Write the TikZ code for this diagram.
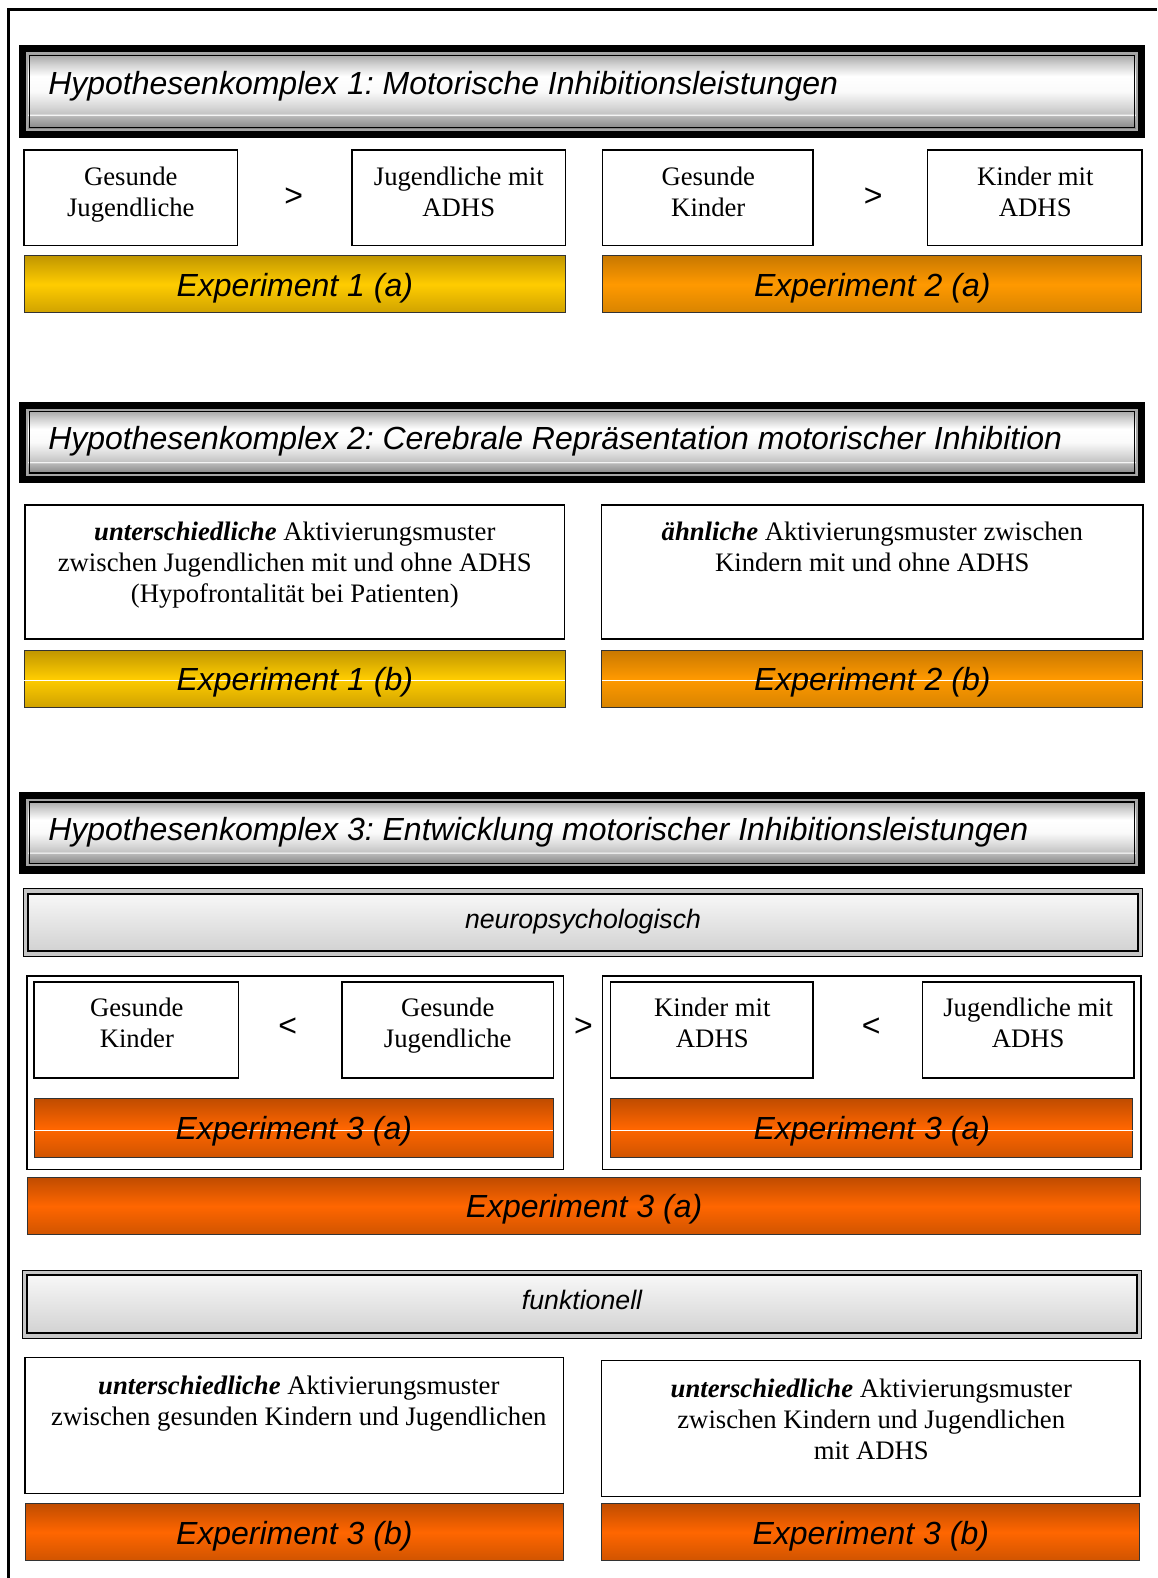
\documentclass[tikz,border=0pt]{standalone}
\usepackage{fontspec}
\setmainfont{Liberation Serif}
\newfontfamily\sansf{Liberation Sans}
\frenchspacing
\usetikzlibrary{fit}
\definecolor{goldT}{HTML}{C09600}
\definecolor{goldM}{HTML}{FFCC00}
\definecolor{goldB}{HTML}{CFA200}
\definecolor{orT}{HTML}{C87800}
\definecolor{orM}{HTML}{FF9900}
\definecolor{orB}{HTML}{D88400}
\definecolor{rdT}{HTML}{C04C00}
\definecolor{rdM}{HTML}{FF6600}
\definecolor{rdB}{HTML}{D05400}
\definecolor{mA}{HTML}{808080}
\definecolor{mB}{HTML}{B8B8B8}
\definecolor{mC}{HTML}{C4C4C4}
\definecolor{mD}{HTML}{D6D6D6}
\definecolor{mE}{HTML}{FAFAFA}
\definecolor{mF}{HTML}{D0D0D0}
\definecolor{mG}{HTML}{A0A0A0}
\pgfdeclareverticalshading{metal}{100bp}{color(0bp)=(mA); color(25bp)=(mA); color(34bp)=(mB); color(34.8bp)=(white); color(35.6bp)=(mC); color(40bp)=(mD); color(50bp)=(mE); color(60bp)=(white); color(68bp)=(mF); color(75bp)=(mG); color(100bp)=(mG)}
\tikzset{
  every node/.style={inner sep=0pt, outer sep=0pt},
  rowbox/.style={draw=black, line width=1.5pt, fill=white},
  ser/.style={font=\fontsize{26.7}{31}\selectfont, align=center},
  hdrtxt/.style={font=\sansf\itshape\fontsize{32}{38}\selectfont, anchor=west},
  exptxt/.style={font=\sansf\itshape\fontsize{32}{38}\selectfont, yshift=-3.5pt},
  cmp/.style={font=\sansf\fontsize{32}{38}\selectfont},
  subtxt/.style={font=\sansf\itshape\fontsize{26.7}{31}\selectfont},
  goldbar/.style={draw=black!80, line width=1pt, top color=goldT, bottom color=goldB, middle color=goldM},
  orbar/.style={draw=black!80, line width=1pt, top color=orT, bottom color=orB, middle color=orM},
  rdbar/.style={draw=black!80, line width=1pt, top color=rdT, bottom color=rdB, middle color=rdM},
  hdrframe/.style={fill=black},
  hdrinner/.style={shading=metal, draw=gray!70, line width=2pt},
  subouter/.style={draw=black, line width=1pt, fill=gray!45},
  subinner/.style={draw=black, line width=2pt, top color=white!97!black, bottom color=gray!35},
  shine/.style={white, line width=1pt},
}
\newcommand{\Hdr}[5]{% name ytop ybot text textshift
  \node[hdrframe, fit={(19,#2) (1138,#3)}] (#1) {};
  \node[hdrinner, fit={(27,{#2+8}) (1130,{#3-8})}] (#1i) {};
  \draw[black, line width=1.2pt] (29,{#2+10}) rectangle (1128,{#3-10});
  \node[hdrtxt] (#1t) at (48,{(#2+#3)/2-#5}) {#4};
}
\newcommand{\Sub}[7]{% name x1 y1 x2 y2 text textshift
  \node[subouter, fit={(#2,#3) (#4,#5)}] (#1) {};
  \node[subinner, fit={({#2+5},{#3+5}) ({#4-5},{#5-5})}] (#1i) {};
  \node[subtxt] (#1t) at ({(#2+#4)/2},{(#3+#5)/2+#7}) {#6};
}
\begin{document}
\begin{tikzpicture}[x=1.0061pt, y=-1.0064pt]
\useasboundingbox (0,0) rectangle (1150,1568);
% outer frame
\draw[line width=3pt, line join=miter] (8,1568) -- (8,9) -- (1150,9);

% ---------- Hypothesenkomplex 1
\Hdr{h1}{45}{137}{Hypothesenkomplex 1: Motorische Inhibitionsleistungen}{5}
\node[rowbox, fit={(24,149) (236,244)}] (a1) {};
\node[ser] (a1t) at (130,193.5) {Gesunde\\Jugendliche};
\node[cmp] (r1) at (292,196) {>};
\node[rowbox, fit={(350,149) (562,244)}] (a2) {};
\node[ser] (a2t) at (456,190.5) {Jugendliche mit\\ADHS};
\node[rowbox, fit={(599,149) (808,244)}] (a3) {};
\node[ser] (a3t) at (704,190.5) {Gesunde\\Kinder};
\node[cmp] (r2) at (868,196) {>};
\node[rowbox, fit={(922,149) (1135,244)}] (a4) {};
\node[ser] (a4t) at (1029,190.5) {Kinder mit\\ADHS};
\node[goldbar, fit={(24,254) (562,311)}] (e1a) {};
\node[exptxt] (e1at) at (e1a.center) {Experiment 1 (a)};
\node[orbar, fit={(599,254) (1135,311)}] (e2a) {};
\node[exptxt] (e2at) at (e2a.center) {Experiment 2 (a)};

% ---------- Hypothesenkomplex 2
\Hdr{h2}{399}{480}{Hypothesenkomplex 2: Cerebrale Repräsentation motorischer Inhibition}{1}
\node[rowbox, fit={(25,502) (561,635)}] (b1) {};
\node[ser] (b1t) at (293,562) {\textbf{\textit{unterschiedliche}} Aktivierungsmuster\\zwischen Jugendlichen mit und ohne ADHS\\(Hypofrontalität bei Patienten)};
\node[rowbox, fit={(598,502) (1136,635)}] (b2) {};
\node[ser] (b2t) at (867,543.5) {\textbf{\textit{ähnliche}} Aktivierungsmuster zwischen\\Kindern mit und ohne ADHS};
\node[goldbar, fit={(24,646) (562,703)}] (e1b) {};
\draw[shine] ([yshift=-2pt]e1b.west) -- ([yshift=-2pt]e1b.east);
\node[exptxt] (e1bt) at (e1b.center) {Experiment 1 (b)};
\node[orbar, fit={(598,646) (1136,703)}] (e2b) {};
\draw[shine] ([yshift=-2pt]e2b.west) -- ([yshift=-2pt]e2b.east);
\node[exptxt] (e2bt) at (e2b.center) {Experiment 2 (b)};

% ---------- Hypothesenkomplex 3
\Hdr{h3}{787}{868}{Hypothesenkomplex 3: Entwicklung motorischer Inhibitionsleistungen}{1}
\Sub{np}{23}{883}{1136}{950}{neuropsychologisch}{-1}
\node[rowbox, fit={(27,970) (560,1162)}] (g1) {};
\node[rowbox, fit={(599,970) (1134,1162)}] (g2) {};
\node[rowbox, fit={(34,976) (237,1071)}] (c1) {};
\node[ser] (c1t) at (136,1016.5) {Gesunde\\Kinder};
\node[cmp] (r3) at (286,1021) {<};
\node[rowbox, fit={(340,976) (550,1071)}] (c2) {};
\node[ser] (c2t) at (445,1019.5) {Gesunde\\Jugendliche};
\node[cmp] (r4) at (580,1021) {>};
\node[rowbox, fit={(607,976) (808,1071)}] (c3) {};
\node[ser] (c3t) at (708,1016.5) {Kinder mit\\ADHS};
\node[cmp] (r5) at (866,1021) {<};
\node[rowbox, fit={(917,976) (1127,1071)}] (c4) {};
\node[ser] (c4t) at (1022,1016.5) {Jugendliche mit\\ADHS};
\node[rdbar, fit={(34,1092) (550,1150)}] (e3a1) {};
\draw[shine] ([yshift=-2pt]e3a1.west) -- ([yshift=-2pt]e3a1.east);
\node[exptxt] (e3a1t) at (e3a1.center) {Experiment 3 (a)};
\node[rdbar, fit={(607,1092) (1126,1150)}] (e3a2) {};
\draw[shine] ([yshift=-2pt]e3a2.west) -- ([yshift=-2pt]e3a2.east);
\node[exptxt] (e3a2t) at (e3a2.center) {Experiment 3 (a)};
\node[rdbar, fit={(27,1170) (1134,1227)}] (e3a) {};
\node[exptxt] (e3at) at (e3a.center) {Experiment 3 (a)};

\Sub{fu}{22}{1262}{1135}{1330}{funktionell}{-4}
\node[rowbox, fit={(25,1349) (560,1484)}] (d1) {};
\node[ser] (d1t) at (297,1394.5) {\textbf{\textit{unterschiedliche}} Aktivierungsmuster\\zwischen gesunden Kindern und Jugendlichen};
\node[rowbox, fit={(598,1352) (1133,1487)}] (d2) {};
\node[ser] (d2t) at (866,1410) {\textbf{\textit{unterschiedliche}} Aktivierungsmuster\\zwischen Kindern und Jugendlichen\\mit ADHS};
\node[rdbar, fit={(25,1494) (560,1551)}] (e3b1) {};
\node[exptxt] (e3b1t) at (e3b1.center) {Experiment 3 (b)};
\node[rdbar, fit={(598,1494) (1133,1551)}] (e3b2) {};
\node[exptxt] (e3b2t) at (e3b2.center) {Experiment 3 (b)};
\end{tikzpicture}
\end{document}
